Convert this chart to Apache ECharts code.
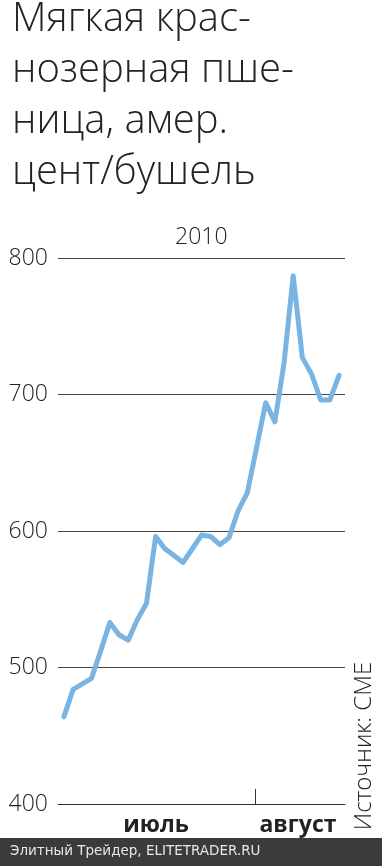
<!DOCTYPE html>
<html>
<head>
<meta charset="utf-8">
<style>
html,body{margin:0;padding:0;background:#fff;}
#chart{width:382px;height:866px;}
</style>
<script src="https://cdn.jsdelivr.net/npm/echarts@6/dist/echarts.min.js"></script>
</head>
<body>
<div id="chart"></div>
<script>
// Trading-day index (July 1 .. mid-August 2010)
var dayIndex = [0,1,2,3,4,5,6,7,8,9,10,11,12,13,14,15,16,17,18,19,20,21,22,23,24,25,26,27,28,29,30];
// Soft red winter wheat, US cents per bushel
var prices = [464,484,488,492,512,533,524,520,535,547,596,587,582,577,587,597,596,590,595,615,628,661,694,680,723,787,727,715,696,696,714];
var yTicks = [400,500,600,700,800];
var monthLabels = ['июль','август'];
var monthLabelPos = [10.04, 25.52];
var monthBoundary = [20.83];
var titleText = 'Мягкая крас-\nнозерная пше-\nница, амер.\nцент/бушель';
var yearText = '2010';
var sourceText = 'Источник: CME';
var footerText = 'Элитный Трейдер, ELITETRADER.RU';

var chart = echarts.init(document.getElementById('chart'), null, {renderer:'canvas'});
var seriesData = dayIndex.map(function(d,i){return [d, prices[i]];});

chart.setOption({
  animation:false,
  backgroundColor:'#ffffff',
  title:{
    text:titleText,
    left:12, top:-6, padding:0,
    textStyle:{fontFamily:'Open Sans', fontWeight:300, fontSize:40, lineHeight:51, color:'#222'}
  },
  grid:{left:58, right:37, top:258, bottom:62},
  xAxis:{
    type:'value', min:-0.65, max:30.65,
    axisLine:{show:true, lineStyle:{color:'#333', width:1}},
    axisTick:{show:true, inside:true, length:15, customValues:monthBoundary, lineStyle:{color:'#333', width:1}},
    axisLabel:{
      show:true, customValues:monthLabelPos, margin:10,
      fontFamily:'Open Sans', fontWeight:'bold', fontSize:23, color:'#222',
      formatter:function(v){
        var best=0, bd=1e9;
        for(var i=0;i<monthLabelPos.length;i++){var d=Math.abs(monthLabelPos[i]-v); if(d<bd){bd=d;best=i;}}
        return monthLabels[best];
      }
    },
    splitLine:{show:false}
  },
  yAxis:{
    type:'value', min:yTicks[0], max:yTicks[yTicks.length-1], interval:100,
    axisLine:{show:false}, axisTick:{show:false},
    axisLabel:{margin:10, fontFamily:'Open Sans', fontWeight:300, fontSize:23, color:'#222'},
    splitLine:{show:true, lineStyle:{color:'#444', width:1}}
  },
  series:[{
    type:'line', data:seriesData, symbol:'none',
    lineStyle:{color:'#79b4e3', width:5, cap:'round', join:'round'}
  }],
  graphic:[
    {type:'text', left:201-26, top:226, style:{text:yearText, font:'300 23px "Open Sans"', fill:'#222'}},
    {type:'text', x:364, y:746, rotation:Math.PI/2,
      style:{text:sourceText, font:'300 24px "Open Sans"', fill:'#222', align:'center', verticalAlign:'middle'}},
    {type:'rect', left:0, top:838, shape:{width:382, height:28}, style:{fill:'#3b3b3b'}},
    {type:'text', left:10, top:844, style:{text:footerText, font:'13.5px "DejaVu Sans"', fill:'#e8e8e8'}}
  ]
});
</script>
</body>
</html>
